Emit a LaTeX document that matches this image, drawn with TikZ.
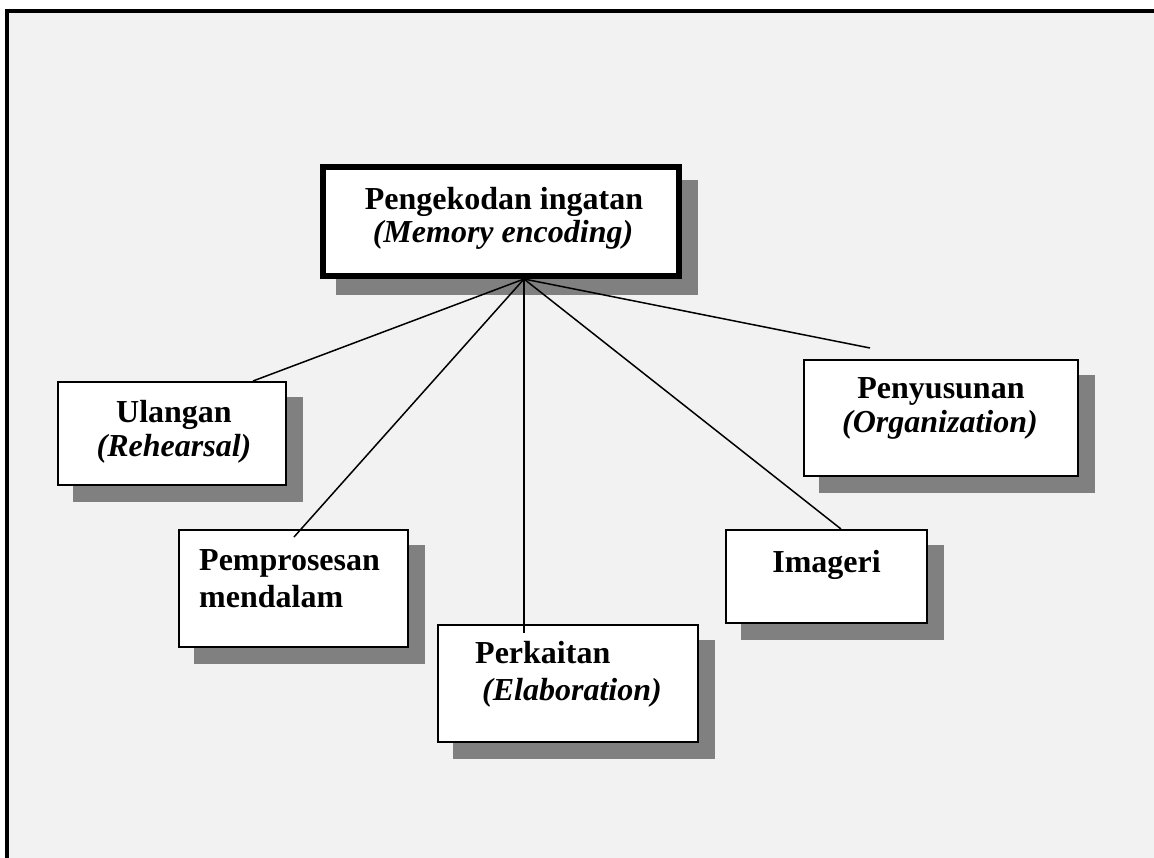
\documentclass[tikz,border=0pt]{standalone}
\usepackage{fontspec}
\setmainfont{Liberation Serif}
\begin{document}
\begin{tikzpicture}[x=1pt,y=-1pt,
  panel/.style={fill=white,draw=black,line width=2pt,inner sep=0pt},
  mainpanel/.style={panel,line width=6pt},
  shade/.style={fill=shadowgray,draw=none},
  lbl/.style={anchor=base,inner sep=0pt,font=\fontsize{32}{36}\selectfont\bfseries},
  lblleft/.style={lbl,anchor=base west},
  link/.style={draw=black,line width=1.5pt}]
\definecolor{shadowgray}{HTML}{808080}
\definecolor{backgray}{HTML}{F2F2F2}
\useasboundingbox (0,0) rectangle (1154,858);
% page background and frame
\fill[white] (0,0) rectangle (1154,858);
\fill[backgray] (7,11) rectangle (1154,858);
\draw[line width=4pt] (7,858) -- (7,11) -- (1154,11);

% drop shadows
\fill[shade] (336,180) rectangle (698,295);
\fill[shade] (73,397) rectangle (303,502);
\fill[shade] (819,375) rectangle (1095,493);
\fill[shade] (194,545) rectangle (425,664);
\fill[shade] (453,640) rectangle (715,759);
\fill[shade] (741,545) rectangle (944,640);

% boxes
\node[mainpanel,minimum width=356pt,minimum height=109pt] (enc) at (501,221.5) {};
\node[panel,minimum width=228pt,minimum height=103pt] (reh) at (172,433.5) {};
\node[panel,minimum width=274pt,minimum height=116pt] (org) at (941,418) {};
\node[panel,minimum width=229pt,minimum height=117pt] (deep) at (293.5,588.5) {};
\node[panel,minimum width=260pt,minimum height=117pt] (elab) at (568,683.5) {};
\node[panel,minimum width=201pt,minimum height=93pt] (img) at (826.5,576.5) {};

% labels
\node[lbl] (enc-a) at (504,210) {Pengekodan ingatan};
\node[lbl] (enc-b) at (503,243) {\textit{(Memory encoding)}};
\node[lbl] (reh-a) at (174,423) {Ulangan};
\node[lbl] (reh-b) at (174,456) {\textit{(Rehearsal)}};
\node[lbl] (org-a) at (941,399) {Penyusunan};
\node[lbl] (org-b) at (940,432) {\textit{(Organization)}};
\node[lblleft] (deep-a) at (199,570) {Pemprosesan};
\node[lblleft] (deep-b) at (199,607) {mendalam};
\node[lblleft] (elab-a) at (475,663) {Perkaitan};
\node[lblleft] (elab-b) at (482,700) {\textit{(Elaboration)}};
\node[lbl] (img-a) at (826.5,572) {Imageri};

% connector ends
\coordinate (hub) at (524,279);
\coordinate (reh-end) at (253,381);
\coordinate (deep-end) at (294,537);
\coordinate (elab-end) at (524,633);
\coordinate (img-end) at (841,529);
\coordinate (org-end) at (870,348);

% connectors
\draw[link] (hub) -- (reh-end);
\draw[link] (hub) -- (deep-end);
\draw[link] (hub) -- (elab-end);
\draw[link] (hub) -- (img-end);
\draw[link] (hub) -- (org-end);
\end{tikzpicture}
\end{document}
